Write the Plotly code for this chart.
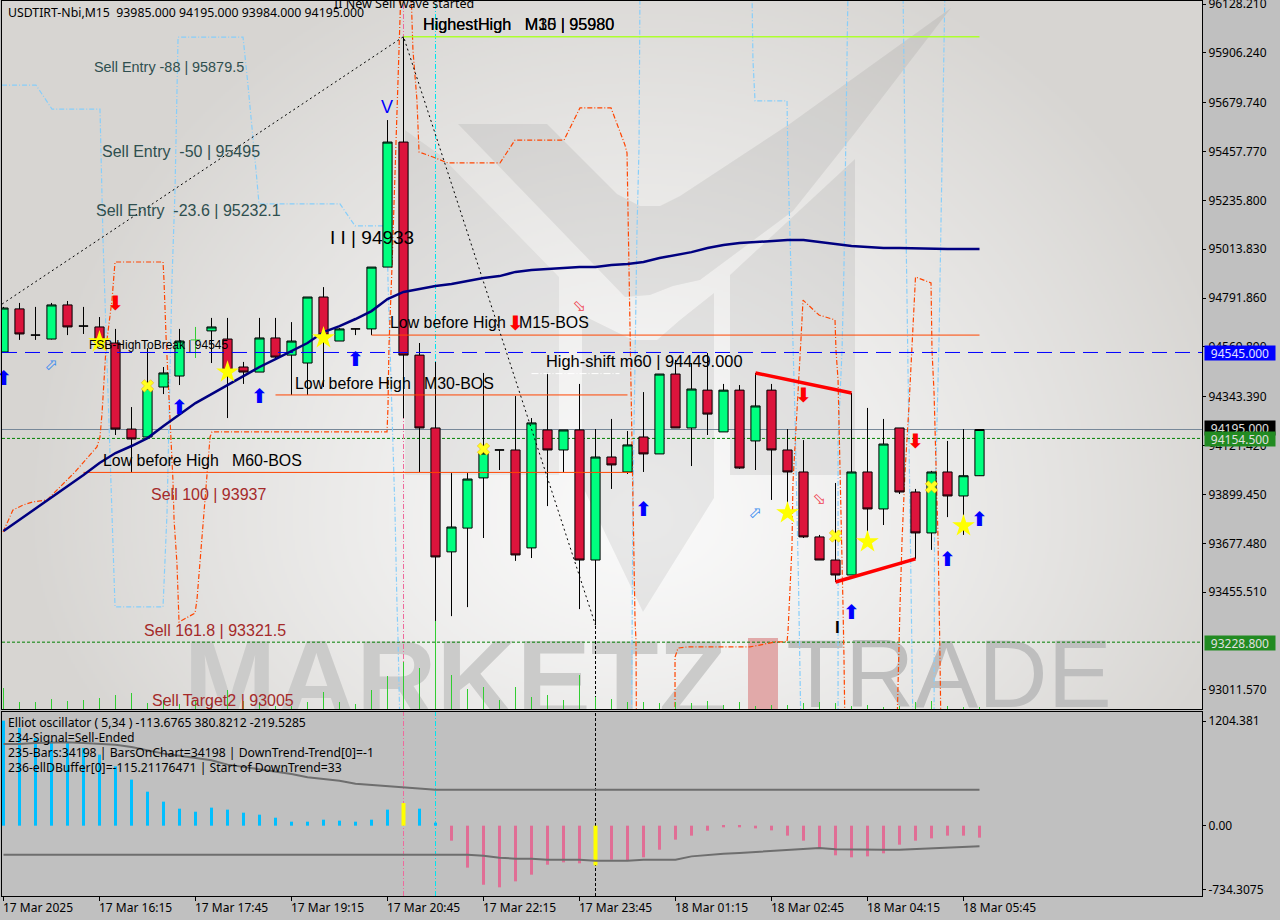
import base64, struct, zlib
import numpy as np
import plotly.graph_objects as go

W, H = 1280, 920

# ---------- data ----------
bars = list(range(62))
o = [94547,94743,94624,94606,94761,94665,94661,94588,94197,94161,94388,94438,None,94643,94606,94479,94456,94611,94533,94497,94797,94597,94652,94652,94933,95501,94533,94202,93639,93747,93975,94102,94102,93657,94193,94102,94193,93602,94070,94002,94161,94084,94447,94202,94374,94184,94374,94143,94374,94102,94002,93707,93602,93534,94002,93834,94202,93911,93725,94002,93893,93985]
h = [94752,94770,94752,94770,94779,94752,94706,94652,94297,94565,94479,94652,None,94702,94702,94502,94702,94702,94683,94797,94842,94656,94652,94933,95601,95980,94588,94502,93997,93997,94452,94102,94347,94247,94452,94193,94402,94197,94243,94188,94365,94447,94511,94497,94543,94402,94397,94452,94402,94197,94147,93716,93952,94361,94293,94243,94202,93925,94007,94143,94197,94195]
l = [94547,94602,94602,94604,94624,94629,94570,94170,94002,94152,94356,94397,None,94497,94247,94402,94456,94511,94352,94352,94388,94597,94624,94624,94933,94247,94002,93325,93347,93388,93702,94011,93598,93611,93847,94002,93379,93306,93925,93993,94002,94084,94202,94029,94170,94184,94016,94011,93875,93806,93702,93602,93502,93534,93693,93761,93902,93607,93648,93797,93716,93984]
c = [94747,94629,94624,94761,94661,94665,94588,94197,94152,94383,94452,94597,None,94661,94465,94456,94611,94524,94597,94797,94624,94652,94652,94933,95501,94533,94202,93616,93752,93970,94088,94102,93625,94225,94102,94193,93602,94070,94034,94125,94084,94447,94202,94379,94265,94374,94020,94302,94102,94002,93707,93602,93534,94002,93834,94129,93911,93725,94002,93893,93985,94195]
doji_green = {"bar": 12, "price": 94602, "high": 94661, "low": 94520}

ma = [93734,93784,93834,93884,93934,93988,94043,94088,94120,94156,94211,94261,94315,94356,94397,94438,94479,94515,94552,94588,94638,94665,94697,94733,94788,94820,94833,94847,94856,94870,94883,94892,94911,94920,94924,94929,94933,94933,94942,94947,94956,94974,94988,95001,95020,95033,95042,95047,95052,95056,95056,95047,95038,95029,95024,95020,95020,95018,95015,95015,95015,95015]

volume = [21,7,7,10,8,9,11,14,16,6,9,5,8,6,19,8,7,3,3,7,17,7,5,19,33,47,41,88,34,20,22,9,22,12,14,9,34,12,10,7,7,6,7,6,8,4,7,3,4,4,6,7,6,3,4,2,3,7,8,3,2,2]

band_blue_x = [-0.09,2.03,3.03,6.03,6.22,6.41,6.84,6.97,9.97,10.22,10.53,10.72,10.91,14.97,15.28,15.53,15.78,15.97,21.03,21.97,23.97,24.03,24.34,24.47,24.59,24.66,24.78,39.25,39.34,39.41,39.47,39.59,39.72,39.78,46.78,46.84,46.97,48.97,49.03,49.22,49.34,49.47,49.69,49.78,49.84,52.16,52.16,52.41,52.53,52.78,56.22,56.41,56.53,56.69,56.78,56.84,58.16,58.19,58.47,58.59,58.84]
band_blue_p = [95760,95760,95651,95651,95056,94647,93661,93389,93389,93816,94874,95283,95978,95978,95760,95578,95374,95220,95220,95120,95120,94874,94116,93816,93407,93239,92830,92830,93875,94193,94556,95088,95478,96192,96192,95874,95688,95688,95406,94933,94633,94252,93489,93161,92830,92830,94147,94556,94933,96192,96192,95088,94556,93648,93161,92830,92830,93770,94602,95161,96192]

band_red_x = [-0.03,0.59,1.22,1.84,2.72,3.53,4.47,5.84,6.03,6.16,6.41,6.78,6.84,6.97,9.97,10.03,10.16,10.41,10.59,10.66,10.84,10.97,11.97,12.09,12.28,12.47,12.72,12.91,13.03,23.97,24.03,24.09,24.28,24.59,24.72,24.84,25.47,25.59,25.84,25.97,26.84,27.78,31.03,31.97,35.03,36.03,37.97,38.84,38.97,39.03,39.09,39.16,39.28,39.34,39.41,39.47,39.53,39.56,41.97,41.97,42.16,42.72,46.66,48.22,48.97,49.03,49.16,49.28,49.34,49.59,49.84,49.97,50.97,51.97,52.03,52.16,52.28,52.41,52.47,52.53,52.59,55.84,55.94,56.03,56.16,56.34,56.59,56.78,57.0,57.97,58.03,58.16,58.28,58.41,58.53,58.59]
band_red_p = [93729,93829,93852,93866,93875,93934,94002,94116,94161,94270,94570,94783,94842,94956,94956,94874,94615,94270,93966,93784,93588,93320,93361,93420,93588,93784,93966,94161,94184,94184,94297,94570,94933,95615,95996,96192,96192,95919,95692,95456,95433,95406,95406,95510,95510,95656,95656,95488,95451,95206,95024,94556,94206,93907,93616,93330,93239,92830,92830,93161,93202,93207,93207,93230,93230,93275,93475,93661,93952,94252,94602,94783,94715,94693,94556,94420,94070,93693,93389,93161,92830,92830,93161,93389,93693,93997,94297,94602,94888,94861,94556,94361,93997,93693,93161,92830]

zigzag_x = [-0.09, 25, 37]
zigzag_p = [94765, 95980, 93306]
fall_line_x, fall_line_p = [47, 53], [94452, 94361]
rise_line_x, rise_line_p = [52, 57], [93502, 93607]

levels = {
    "ask": 94195.0, "bid": 94154.5, "fsb": 94545.0, "low_green": 93228.8,
    "highest": 95980.0, "m15": 94624.0, "m30": 94352.0, "m60": 94000.0, "shift": 94449.0,
}

down_x, down_p = [7, 32, 50, 57], [94761, 94670, 94343, 94134]
up_x, up_p = [0, 11, 16, 22, 40, 53, 59, 61], [94420, 94288, 94338, 94506, 93825, 93357, 93598, 93779]
hollow_up_x, hollow_up_p = [3, 47], [94484, 93811]
hollow_dn_x, hollow_dn_p = [36, 51], [94752, 93875]
star_x, star_p = [6, 14, 20, 49, 54, 60], [94593, 94456, 94611, 93816, 93684, 93757]
cross_x, cross_p = [9, 30, 52, 58], [94393, 94106, 93711, 93934]

osc = [1211,1127,1011,973,954,896,819,684,531,392,277,196,161,208,185,150,127,92,46,46,69,58,46,69,185,261,196,35,-173,-484,-681,-711,-642,-565,-450,-423,-434,-458,-392,-400,-365,-277,-161,-115,-58,-19,-19,-31,-54,-115,-173,-258,-342,-365,-354,-319,-219,-173,-146,-115,-115,-138]
osc_hi = [942,942,954,961,961,954,942,934,907,869,831,807,781,754,704,677,654,627,596,558,538,519,484,469,454,446,431,415]+[415]*34
osc_lo = [-335]*30+[-346,-369,-381,-381,-392,-392,-392,-404,-404,-404,-392,-392,-392,-354,-338,-323,-315,-304,-292,-281,-269,-258,-273,-277,-277,-277,-277,-269,-265,-258,-246,-238]

price_ticks = [96128.21,95906.24,95679.74,95457.77,95235.80,95013.83,94791.86,94569.89,94343.39,94121.42,93899.45,93677.48,93455.51,93011.57]
price_tick_text = ["96128.210","95906.240","95679.740","95457.770","95235.800","95013.830","94791.860","94569.890","94343.390","94121.420","93899.450","93677.480","93455.510","93011.570"]
osc_ticks = [1204.381, 0, -734.3075]
osc_tick_text = ["1204.381", "0.00", "-734.3075"]
time_ticks = [0,6,12,18,24,30,36,42,48,54,60]
time_labels = ["17 Mar 2025","17 Mar 16:15","17 Mar 17:45","17 Mar 19:15","17 Mar 20:45","17 Mar 22:15","17 Mar 23:45","18 Mar 01:15","18 Mar 02:45","18 Mar 04:15","18 Mar 05:45"]

# ---------- frame ----------
PL, PR, PT, PB = 2, 1202, 1, 709
OT, OB = 712, 896
X_RANGE = [(PL - 3.5) / 16, (PR - 3.5) / 16]
Y_RANGE = [92925.1, 96141.9]
O_RANGE = [-811, 1311]
AXIS_BG = "#C0C0C0"
UI_FONT = "Noto Sans"
LBL_FONT = "Liberation Sans"
ORANGE = "#FF4500"
SKY = "#87CEFA"
DASHDOT = "5px,2px,1px,2px"


def fx(v):
    return v / W


def fy(v):
    return 1 - v / H


def background_png():
    w, hh = 600, 354
    xs = (np.arange(w) + .5) * 2 + PL
    ys = (np.arange(hh) + .5) * 2 + PT
    gx, gy = np.meshgrid(xs, ys)
    d = np.sqrt(((gx - 640) / 620) ** 2 + ((gy - 520) / np.where(gy < 520, 600, 420)) ** 2)
    d = np.clip(d, 0, 1) ** 1.25
    r = 250 - (250 - 215) * d
    g = 250 - (250 - 213) * d
    b = 250 - (250 - 210) * d
    img = np.stack([r, g, b], axis=2).astype(np.uint8)
    raw = b"".join(b"\x00" + img[i].tobytes() for i in range(hh))

    def chunk(t, data):
        return struct.pack(">I", len(data)) + t + data + struct.pack(">I", zlib.crc32(t + data) & 0xffffffff)

    png = b"\x89PNG\r\n\x1a\n" + chunk(b"IHDR", struct.pack(">IIBBBBB", w, hh, 8, 2, 0, 0, 0)) + chunk(b"IDAT", zlib.compress(raw, 9)) + chunk(b"IEND", b"")
    return "data:image/png;base64," + base64.b64encode(png).decode()


def poly(points, fill):
    path = "M " + " L ".join(f"{fx(a):.5f} {fy(b):.5f}" for a, b in points) + " Z"
    return dict(type="path", path=path, xref="paper", yref="paper", fillcolor=fill, line=dict(width=0), layer="below")


LOGO_SHADE = "rgba(0,0,0,0.065)"
shapes = [
    poly([(458,124),(547,124),(617,194),(640,206),(660,206),(680,196),(791,123),(951,8),(855,133),(793,211),(700,280),(673,286),(650,295),(625,297)], LOGO_SHADE),
    poly([(405,130),(440,155),(559,277),(559,475),(405,475)], "rgba(0,0,0,0.05)"),
    poly([(582,315),(633,340),(657,340),(680,320),(714,293),(714,498),(643,612),(582,485)], LOGO_SHADE),
    poly([(730,275),(855,159),(855,475),(730,475)], LOGO_SHADE),
]


def watermark(text, x0, x1, y0, y1, size, color, family, weight):
    return dict(type="rect", xref="paper", yref="paper", x0=fx(x0), x1=fx(x1), y0=fy(y1), y1=fy(y0),
                line=dict(width=0), fillcolor="rgba(0,0,0,0)", layer="below",
                label=dict(text=text, textposition="middle center",
                           font=dict(size=size, color=color, family=family, weight=weight)))


shapes += [
    watermark("MARKETZ", 170, 740, 589, 749, 111, "#CBCBCA", "Liberation Sans", 700),
    dict(type="rect", xref="paper", yref="paper", x0=fx(748), x1=fx(778), y0=fy(709), y1=fy(638),
         fillcolor="#E1A9A9", line=dict(width=0), layer="below"),
    watermark("TRADE", 790, 1108, 584, 744, 96, "#BEBEBE", "Liberation Sans", 400),
    dict(type="rect", xref="paper", yref="paper", x0=0, x1=1, y0=0, y1=fy(709.5),
         fillcolor=AXIS_BG, line=dict(width=0), layer="below"),
]
# lines sitting behind the candles
for lvl, col, dash in [(levels["ask"], "#778899", "solid"), (levels["bid"], "#008000", "dash"), (levels["low_green"], "#008000", "dash")]:
    shapes.append(dict(type="line", xref="x", yref="y", x0=X_RANGE[0], x1=X_RANGE[1], y0=lvl, y1=lvl,
                       line=dict(color=col, width=1, dash="3px,2px" if dash == "dash" else "solid"), layer="below"))
for vx, col in [(25, "#EE6A9C"), (27, "#00E5EE")]:
    for yr in ("y", "y2"):
        rng = Y_RANGE if yr == "y" else O_RANGE
        shapes.append(dict(type="line", xref="x" if yr == "y" else "x2", yref=yr, x0=vx, x1=vx, y0=rng[0], y1=rng[1],
                           line=dict(color=col, width=1, dash=DASHDOT), layer="below"))
shapes.append(dict(type="line", xref="x2", yref="y2", x0=37, x1=37, y0=O_RANGE[0], y1=O_RANGE[1],
                   line=dict(color="black", width=1, dash="3px,2px"), layer="below"))
shapes.append(dict(type="line", xref="x", yref="y", x0=37, x1=37, y0=Y_RANGE[0], y1=93306,
                   line=dict(color="black", width=1, dash="3px,2px"), layer="below"))

fig = go.Figure()

# bands behind the candles
fig.add_trace(go.Scatter(x=band_blue_x, y=band_blue_p, mode="lines", line=dict(color=SKY, width=1.2, dash=DASHDOT), xaxis="x", yaxis="y", hoverinfo="skip"))
fig.add_trace(go.Scatter(x=band_red_x, y=band_red_p, mode="lines", line=dict(color=ORANGE, width=1.2, dash=DASHDOT), xaxis="x", yaxis="y", hoverinfo="skip"))

# tick volume
fig.add_trace(go.Bar(x=bars, y=volume, width=1 / 16, marker=dict(color="#32CD32", line=dict(width=0)), xaxis="x", yaxis="y3", hoverinfo="skip"))

# candles
fig.add_trace(go.Candlestick(x=bars, open=o, high=h, low=l, close=c, xaxis="x", yaxis="y4", whiskerwidth=0,
                             increasing=dict(fillcolor="#00FF7F", line=dict(color="black", width=1)),
                             decreasing=dict(fillcolor="#DC143C", line=dict(color="black", width=1)),
                             hoverinfo="skip"))
fig.add_trace(go.Scatter(x=[doji_green["bar"], doji_green["bar"], None, doji_green["bar"] - .3, doji_green["bar"] + .3],
                         y=[doji_green["high"], doji_green["low"], None, doji_green["price"], doji_green["price"]],
                         mode="lines", line=dict(color="#32CD32", width=1), xaxis="x", yaxis="y4", hoverinfo="skip"))


def hline(start, end, price, color, width=1, dash="solid"):
    fig.add_trace(go.Scatter(x=[start, end], y=[price, price], mode="lines",
                             line=dict(color=color, width=width, dash=dash), xaxis="x", yaxis="y5", hoverinfo="skip"))


hline(X_RANGE[0], X_RANGE[1], levels["fsb"], "#0000FF", 1, "15px,8px")
hline(25, 61, levels["highest"], "#ADFF2F", 1.5)
hline(23, 61, levels["m15"], ORANGE)
hline(17, 39, levels["m30"], ORANGE)
hline(5, 39.3, levels["m60"], ORANGE)
hline(33, 38.5, levels["shift"], "white", 1, "7px,2px,1px,2px")

fig.add_trace(go.Scatter(x=zigzag_x, y=zigzag_p, mode="lines", line=dict(color="black", width=1, dash="2px,3px"), xaxis="x", yaxis="y5", hoverinfo="skip"))
fig.add_trace(go.Scatter(x=bars, y=ma, mode="lines", line=dict(color="#000080", width=2.5), xaxis="x", yaxis="y5", hoverinfo="skip"))
fig.add_trace(go.Scatter(x=fall_line_x, y=fall_line_p, mode="lines", line=dict(color="#FF0000", width=3.5), xaxis="x", yaxis="y5", hoverinfo="skip"))
fig.add_trace(go.Scatter(x=rise_line_x, y=rise_line_p, mode="lines", line=dict(color="#FF0000", width=3.5), xaxis="x", yaxis="y5", hoverinfo="skip"))


def glyphs(xs, ps, ch, color, size, weight=400):
    fig.add_trace(go.Scatter(x=xs, y=ps, mode="text", text=[ch] * len(xs), textposition="middle center",
                             textfont=dict(color=color, size=size, family="DejaVu Sans", weight=weight), cliponaxis=False,
                             xaxis="x", yaxis="y5", hoverinfo="skip"))


glyphs(down_x, down_p, "\u2B07", "#FF0000", 20, 700)
glyphs(up_x, up_p, "\u2B06", "#0000FF", 20, 700)
glyphs(hollow_up_x, hollow_up_p, "\u2B00", "#3C8CF0", 16)
glyphs(hollow_dn_x, hollow_dn_p, "\u2B02", "#F04050", 16)
fig.add_trace(go.Scatter(x=star_x, y=star_p, mode="markers", marker=dict(symbol="star", size=17, color="#FFFF00", line=dict(width=0)), xaxis="x", yaxis="y5", hoverinfo="skip"))
fig.add_trace(go.Scatter(x=cross_x, y=cross_p, mode="markers", marker=dict(symbol="x", size=11, color="#FFFF20", line=dict(width=.5, color="#E8A800")), xaxis="x", yaxis="y5", hoverinfo="skip"))

# oscillator
osc_colors = ["#00BFFF" if v > 0 else "#E06E95" for v in osc]
osc_widths = [3 / 16] * len(osc)
for i in (25, 37):
    osc_colors[i] = "#FFFF00"
    osc_widths[i] = 4 / 16
fig.add_trace(go.Bar(x=bars, y=osc, width=osc_widths, marker=dict(color=osc_colors, line=dict(width=0)), xaxis="x2", yaxis="y2", hoverinfo="skip"))
fig.add_trace(go.Scatter(x=bars, y=osc_hi, mode="lines", line=dict(color="#6E6E6E", width=2), xaxis="x2", yaxis="y2", hoverinfo="skip"))
fig.add_trace(go.Scatter(x=bars, y=osc_lo, mode="lines", line=dict(color="#6E6E6E", width=2), xaxis="x2", yaxis="y2", hoverinfo="skip"))

notes = []


def note(text, x, y, size, color="black", family=LBL_FONT, weight=None):
    notes.append(dict(text=text, x=fx(x), y=fy(y), xref="paper", yref="paper", xanchor="left", yanchor="middle",
                      showarrow=False, borderpad=0, font=dict(size=size, color=color, family=family, weight=weight)))


SLATE = "#2F4F4F"
BROWN = "#A52A2A"
S = "\u00a0"
note(f"USDTIRT-Nbi,M15{S}{S}93985.000 94195.000 93984.000 94195.000", 7, 12, 12.3, family=UI_FONT)
note("II New Sell wave started", 333, 3, 12.5, family=UI_FONT)
note(f"HighestHigh{S}{S}{S}M30 | 95980", 422, 24, 16.2)
note(f"HighestHigh{S}{S}{S}M15 | 95980", 422, 24, 16.2)
note("Sell Entry -88 | 95879.5", 93, 67, 14.4, SLATE)
note(f"Sell Entry{S}{S}-50 | 95495", 101, 152, 16, SLATE)
note(f"Sell Entry{S}{S}-23.6 | 95232.1", 95, 210, 16, SLATE)
note("I I | 94933", 329, 237, 19)
note("V", 380, 107, 18, "#0000FF")
note(f"Low before High{S}{S}{S}M15-BOS", 389, 322, 15.9)
note("High-shift m60 | 94449.000", 545, 361, 16.4)
note(f"Low before High{S}{S}{S}M30-BOS", 294, 383, 15.9)
note(f"Low before High{S}{S}{S}M60-BOS", 102, 460, 15.9)
note("FSB-HighToBreak | 94545", 88, 345, 12)
note("Sell 100 | 93937", 150, 495, 16, BROWN)
note("Sell 161.8 | 93321.5", 143, 630, 16, BROWN)
note("Sell Target2 | 93005", 151, 700, 16, BROWN)
note("I", 834, 627, 17, weight=700)
for text, yy in [("Elliot oscillator ( 5,34 ) -113.6765 380.8212 -219.5285", 722),
                 ("234-Signal=Sell-Ended", 737),
                 ("235-Bars:34198 | BarsOnChart=34198 | DownTrend-Trend[0]=-1", 752),
                 ("236-ellDBuffer[0]=-115.21176471 | Start of DownTrend=33", 767)]:
    note(text, 7, yy, 12.2, family=UI_FONT)
for bar, lab in zip(time_ticks, time_labels):
    notes.append(dict(text=lab, x=bar, xref="x2", xshift=-2, y=fy(907), yref="paper", xanchor="left", yanchor="middle",
                      showarrow=False, borderpad=0, font=dict(size=12, color="black", family=UI_FONT)))
for txt, yy, bg, fc in [("94545.000", 353, "#0000FF", "#E0E0FF"), ("94195.000", 428.5, "#000000", "#E0E0E0"),
                        ("94154.500", 439.5, "#228B22", "#E0E0E0"), ("93228.800", 643, "#228B22", "#E0E0E0")]:
    notes.append(dict(text=txt, x=fx(1204), y=fy(yy), xref="paper", yref="paper", xanchor="left", yanchor="middle",
                      width=70, height=14, align="center", showarrow=False, borderpad=0, bgcolor=bg,
                      font=dict(size=12, color=fc, family=UI_FONT)))

axis_common = dict(showgrid=False, zeroline=False, showline=True, linecolor="black", linewidth=1, mirror=True)
fig.update_layout(
    width=W, height=H, margin=dict(l=0, r=0, t=0, b=0, autoexpand=False), autosize=False,
    paper_bgcolor=AXIS_BG, plot_bgcolor="rgba(0,0,0,0)", showlegend=False, barmode="overlay", boxgap=0.18,
    font=dict(family=UI_FONT, size=12, color="black"),
    images=[dict(source=background_png(), xref="paper", yref="paper", x=fx(PL), y=fy(PT), sizex=(PR - PL) / W,
                 sizey=(PB - PT) / H, sizing="stretch", xanchor="left", yanchor="top", layer="below")],
    shapes=shapes, annotations=notes,
    xaxis=dict(domain=[fx(PL), fx(PR)], range=X_RANGE, anchor="y", showticklabels=False, ticks="",
               rangeslider=dict(visible=False), **axis_common),
    xaxis2=dict(domain=[fx(PL), fx(PR)], range=X_RANGE, anchor="y2", tickvals=time_ticks, ticktext=[""] * len(time_ticks),
                ticks="outside", ticklen=4, tickcolor="black", **axis_common),
    yaxis=dict(domain=[fy(PB), fy(PT)], range=Y_RANGE, anchor="x", side="right", tickvals=price_ticks,
               ticktext=price_tick_text, ticks="outside", ticklen=3, tickcolor="black", ticklabeloverflow="allow",
               tickfont=dict(size=12, family=UI_FONT), **axis_common),
    yaxis2=dict(domain=[fy(OB), fy(OT)], range=O_RANGE, anchor="x2", side="right", tickvals=osc_ticks,
                ticktext=osc_tick_text, ticks="outside", ticklen=3, tickcolor="black", ticklabeloverflow="allow",
                tickfont=dict(size=12, family=UI_FONT), **axis_common),
    yaxis3=dict(overlaying="y", range=[0, PB - PT], visible=False, anchor="x", side="right"),
    yaxis4=dict(overlaying="y", range=Y_RANGE, visible=False, anchor="x", side="right"),
    yaxis5=dict(overlaying="y", range=Y_RANGE, visible=False, anchor="x", side="right"),
)

fig.write_html("out.html", config={"displayModeBar": False},
               post_script="document.body.style.margin='0';document.body.style.overflow='hidden';")
